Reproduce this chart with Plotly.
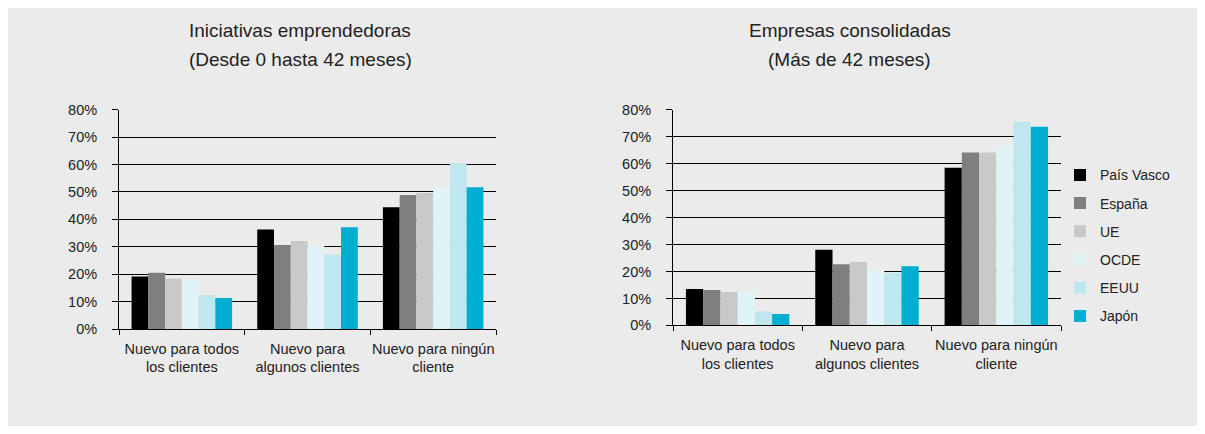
import plotly.graph_objects as go

categories = ["Nuevo para todos<br>los clientes", "Nuevo para<br>algunos clientes", "Nuevo para ningún<br>cliente"]
series_names = ["País Vasco", "España", "UE", "OCDE", "EEUU", "Japón"]
colors = ["#000000", "#7f7f7f", "#c9c9c9", "#e0f3f7", "#bee7ef", "#00aed1"]

# Iniciativas emprendedoras (0-42 meses), percent
left_pais_vasco = [19.2, 36.3, 44.4]
left_espana = [20.6, 30.7, 48.9]
left_ue = [18.5, 32.1, 49.6]
left_ocde = [18.2, 30.5, 51.4]
left_eeuu = [12.5, 27.2, 60.5]
left_japon = [11.4, 37.1, 51.7]

# Empresas consolidadas (>42 meses), percent
right_pais_vasco = [13.5, 28.1, 58.5]
right_espana = [13.1, 22.7, 64.2]
right_ue = [12.4, 23.5, 64.2]
right_ocde = [12.7, 20.5, 66.7]
right_eeuu = [5.2, 19.5, 75.6]
right_japon = [4.2, 22.0, 73.8]

left_series = [left_pais_vasco, left_espana, left_ue, left_ocde, left_eeuu, left_japon]
right_series = [right_pais_vasco, right_espana, right_ue, right_ocde, right_eeuu, right_japon]

y_ticks = [0, 10, 20, 30, 40, 50, 60, 70, 80]
y_tick_labels = ["0%", "10%", "20%", "30%", "40%", "50%", "60%", "70%", "80%"]

FONT = "Liberation Sans"
# The page body keeps its default 8px margin, so the figure is sized to fit the window.
OFF = 8
W, H = 1205 - 2 * OFF, 434 - 2 * OFF


def px(x):
    return (x - OFF) / W


def py(y):
    return 1 - (y - OFF) / H


fig = go.Figure()
for i, name in enumerate(series_names):
    fig.add_trace(go.Bar(x=categories, y=left_series[i], name=name, marker_color=colors[i],
                         marker_line_width=0, xaxis="x", yaxis="y", showlegend=False,
                         legendgroup=name))
for i, name in enumerate(series_names):
    fig.add_trace(go.Bar(x=categories, y=right_series[i], name=name, marker_color=colors[i],
                         marker_line_width=0, xaxis="x2", yaxis="y2", showlegend=True,
                         legendgroup=name))


def xaxis_cfg(domain, anchor):
    return dict(domain=domain, anchor=anchor, type="category", showgrid=False,
                showline=True, linecolor="#000", linewidth=1, tickangle=0,
                ticks="outside", tickson="boundaries", ticklen=5, tickcolor="#000",
                ticklabelstandoff=6,
                tickfont=dict(family=FONT, size=14.5, color="#222"), zeroline=False)


def yaxis_cfg(domain, anchor):
    return dict(domain=domain, anchor=anchor, range=[0, 80], tickmode="array",
                tickvals=y_ticks, ticktext=y_tick_labels,
                showgrid=True, gridcolor="#000", gridwidth=1,
                showline=True, linecolor="#000", linewidth=1,
                ticks="outside", ticklen=6, tickcolor="#000",
                ticklabelstandoff=12,
                tickfont=dict(family=FONT, size=14.5, color="#222"), zeroline=False)


def title_ann(text, x, y):
    return dict(text=text, x=px(x), y=py(y), xref="paper", yref="paper",
                xanchor="center", yanchor="middle", showarrow=False,
                font=dict(family=FONT, size=19, color="#222"))


fig.update_layout(
    width=W, height=H, autosize=False,
    margin=dict(l=0, r=0, t=0, b=0),
    paper_bgcolor="#ebebeb", plot_bgcolor="#ebebeb",
    barmode="group", bargap=0.2, bargroupgap=0,
    font=dict(family=FONT, size=14, color="#222"),
    xaxis=xaxis_cfg([px(119), px(496)], "y"),
    yaxis=yaxis_cfg([py(333.7), py(105.3)], "x"),
    xaxis2=xaxis_cfg([px(673), px(1061)], "y2"),
    yaxis2=yaxis_cfg([py(329.7), py(105.7)], "x2"),
    legend=dict(x=px(1060), y=py(157), xanchor="left", yanchor="top",
                bgcolor="rgba(0,0,0,0)", font=dict(family=FONT, size=14, color="#222"),
                traceorder="grouped", tracegroupgap=7, itemwidth=30),
    annotations=[
        title_ann("Iniciativas emprendedoras", 300, 23),
        title_ann("(Desde 0 hasta 42 meses)", 300, 53),
        title_ann("Empresas consolidadas", 850, 23),
        title_ann("(Más de 42 meses)", 850, 53),
    ],
)

fig.write_html("out.html", config={"displayModeBar": False})
